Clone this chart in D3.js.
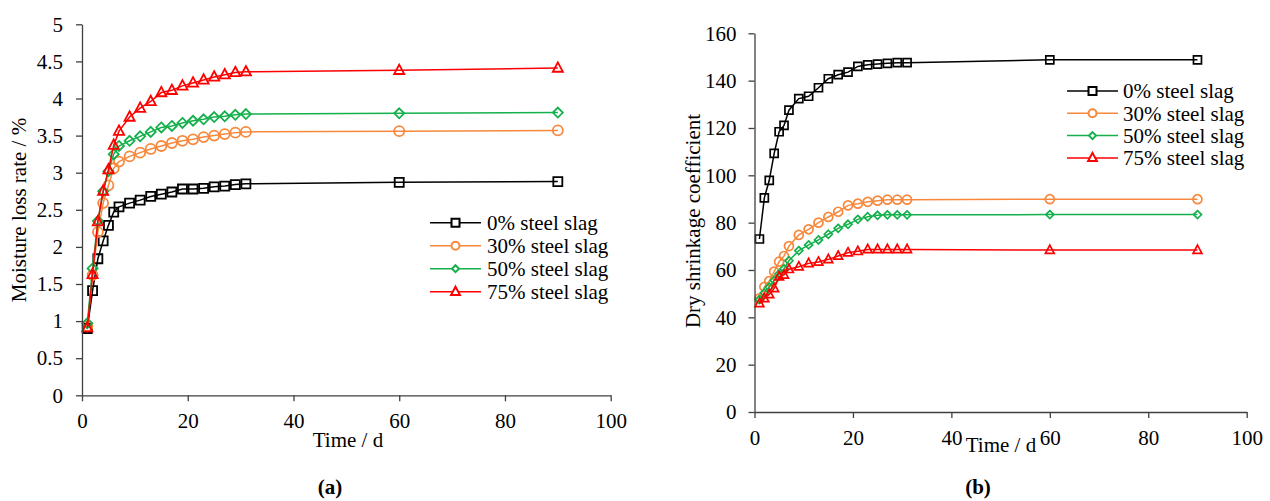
<!DOCTYPE html>
<html><head><meta charset="utf-8">
<script src="https://cdn.jsdelivr.net/npm/d3@7"></script>
<style>
body{margin:0;background:#fff}
text{font-family:"Liberation Serif","Times New Roman",serif}
</style>
</head><body>
<svg id="c" width="1270" height="501"></svg>
<script>
// ---------- data ----------
const days = [1,2,3,4,5,6,7,9,11,13,15,17,19,21,23,25,27,29,31,60,90];
const seriesNames = ["0% steel slag","30% steel slag","50% steel slag","75% steel slag"];
const seriesColors = ["#000000","#f7883c","#14b04c","#ff0000"];
const seriesSymbols = ["square","circle","diamond","triangle"];

const moisture0  = [0.90,1.41,1.84,2.08,2.29,2.47,2.54,2.59,2.63,2.68,2.71,2.74,2.78,2.78,2.79,2.81,2.82,2.84,2.85,2.87,2.88];
const moisture30 = [0.93,1.62,2.20,2.59,2.83,3.06,3.15,3.22,3.27,3.32,3.36,3.40,3.43,3.45,3.48,3.50,3.52,3.54,3.55,3.56,3.57];
const moisture50 = [0.97,1.71,2.35,2.75,3.02,3.25,3.36,3.43,3.49,3.55,3.61,3.63,3.67,3.70,3.72,3.75,3.76,3.78,3.79,3.80,3.81];
const moisture75 = [0.91,1.63,2.34,2.75,3.04,3.37,3.56,3.75,3.87,3.96,4.08,4.11,4.17,4.21,4.25,4.29,4.32,4.35,4.36,4.38,4.41];

const shrink0  = [73.1,90.5,97.9,109.3,118.4,121.1,127.5,132.4,133.4,137.0,140.8,142.5,143.6,146.0,146.7,147.0,147.3,147.6,147.6,148.8,148.8];
const shrink30 = [48.0,52.9,55.3,59.3,63.5,65.9,70.1,74.8,77.2,80.0,82.4,84.6,87.3,88.0,88.8,89.3,89.7,89.7,89.7,89.9,89.9];
const shrink50 = [47.5,50.3,52.8,55.6,58.3,60.5,63.9,68.2,70.6,72.7,75.1,77.6,79.3,81.4,82.5,83.1,83.3,83.3,83.3,83.4,83.4];
const shrink75 = [45.9,48.0,49.7,52.2,57.2,57.9,60.3,61.4,62.8,63.4,64.5,65.9,67.3,67.9,68.7,68.7,68.7,68.7,68.7,68.4,68.4];

const xTicks = [0,20,40,60,80,100];
const yTicksA = [0,0.5,1,1.5,2,2.5,3,3.5,4,4.5,5];
const yTicksB = [0,20,40,60,80,100,120,140,160];

// ---------- drawing ----------
const svg = d3.select("#c");
const FS = 21;
const SERIF = "'Liberation Serif','Times New Roman',serif";

function symbolPath(type, s){
  if(type==="square") return `M${-s},${-s}H${s}V${s}H${-s}Z`;
  if(type==="circle") return `M${s},0A${s},${s} 0 1,1 ${-s},0A${s},${s} 0 1,1 ${s},0Z`;
  if(type==="diamond") return `M0,${-s}L${s},0L0,${s}L${-s},0Z`;
  if(type==="triangle") return `M0,${-s*1.25}L${s*1.1},${s*0.8}L${-s*1.1},${s*0.8}Z`;
}

function drawPanel(cfg){
  const g = svg.append("g");
  const x = d3.scaleLinear().domain([0,100]).range(cfg.xr);
  const y = d3.scaleLinear().domain(cfg.yd).range(cfg.yr);

  // series
  cfg.series.forEach((vals,i)=>{
    const pts = days.map((d,j)=>[d,vals[j]]);
    g.append("path").datum(pts)
      .attr("fill","none").attr("stroke",seriesColors[i]).attr("stroke-width",1.5)
      .attr("d", d3.line().x(p=>x(p[0])).y(p=>y(p[1])));
    g.selectAll(null).data(pts).join("path")
      .attr("transform",p=>`translate(${x(p[0])},${y(p[1])})`)
      .attr("d", symbolPath(seriesSymbols[i], cfg.msize[i]))
      .attr("fill","none").attr("stroke",seriesColors[i]).attr("stroke-width",cfg.mw);
  });

  // axes
  const fmt = d => String(d);
  const ax = g.append("g").attr("transform",`translate(0,${cfg.yr[0]})`)
    .call(d3.axisBottom(x).tickValues(xTicks).tickFormat(fmt).tickSize(6).tickSizeOuter(0).tickPadding(cfg.xpad));
  const ay = g.append("g").attr("transform",`translate(${cfg.xr[0]},0)`)
    .call(d3.axisLeft(y).tickValues(cfg.yTicks).tickFormat(fmt).tickSize(6).tickSizeOuter(0).tickPadding(cfg.ypad));
  [ax,ay].forEach(a=>{
    a.attr("font-family",SERIF).attr("font-size",FS);
    a.selectAll("path,line").attr("stroke","#404040").attr("stroke-width",1.3);
    a.selectAll("text").attr("font-size",FS).attr("fill","#000").attr("font-family",SERIF);
  });

  // axis titles
  g.append("text").attr("x",cfg.xt[0]).attr("y",cfg.xt[1]).attr("text-anchor","middle")
    .attr("font-size",FS).text("Time / d");
  g.append("text").attr("transform",`translate(${cfg.yt[0]},${cfg.yt[1]}) rotate(-90)`)
    .attr("text-anchor","middle").attr("dy","0.35em").attr("font-size",FS).text(cfg.ytitle);

  // legend
  seriesNames.forEach((n,i)=>{
    const ly = cfg.leg.y0 + i*cfg.leg.dy;
    g.append("line").attr("x1",cfg.leg.x0).attr("x2",cfg.leg.x1).attr("y1",ly).attr("y2",ly)
      .attr("stroke",seriesColors[i]).attr("stroke-width",1.5);
    g.append("path").attr("transform",`translate(${(cfg.leg.x0+cfg.leg.x1)/2},${ly})`)
      .attr("d",symbolPath(seriesSymbols[i], cfg.lsize[i]))
      .attr("fill","#fff").attr("stroke",seriesColors[i]).attr("stroke-width",2);
    g.append("text").attr("x",cfg.leg.tx).attr("y",ly).attr("dy","0.35em")
      .attr("font-size",FS).text(n);
  });

  // caption
  g.append("text").attr("x",cfg.cap[0]).attr("y",cfg.cap[1]).attr("text-anchor","middle")
    .attr("font-size",21).attr("font-weight","bold").text(cfg.capText);
}

drawPanel({
  xr:[82,610.7], yd:[0,5], yr:[395.3,24.3], yTicks:yTicksA,
  series:[moisture0,moisture30,moisture50,moisture75],
  msize:[4.5,5,5,4.6], mw:1.8, xpad:12, ypad:13,
  xt:[348,447], yt:[19,210], ytitle:"Moisture loss rate / %",
  leg:{x0:430,x1:481,y0:222.7,dy:23,tx:487},
  lsize:[4,4,3.5,4],
  cap:[330,494], capText:"(a)"
});

drawPanel({
  xr:[754.5,1246.7], yd:[0,160], yr:[412,33.3], yTicks:yTicksB,
  series:[shrink0,shrink30,shrink50,shrink75],
  msize:[4,4.5,4,4], mw:1.7, xpad:12, ypad:12,
  xt:[1001,452], yt:[693,221], ytitle:"Dry shrinkage coefficient",
  leg:{x0:1067,x1:1118,y0:91,dy:22.3,tx:1123},
  lsize:[4,4,3.5,4],
  cap:[978,494], capText:"(b)"
});
</script>
</body></html>
